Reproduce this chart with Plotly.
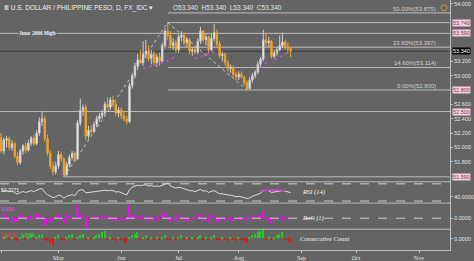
import numpy as np
import pandas as pd
import plotly.graph_objects as go
from plotly.subplots import make_subplots

# ---------------- data ----------------
start_date = "2018-04-02"
axis_end_date = "2018-11-30"
month_labels = ["Apr", "May", "Jun", "Jul", "Aug", "Sep", "Oct", "Nov"]

opens = [52.13, 51.95, 52.10, 52.12, 52.00, 52.05, 51.88, 51.79, 51.95, 52.02,
         51.96, 52.06, 52.13, 52.05, 52.20, 52.36, 52.40, 52.12, 51.92, 51.74,
         51.66, 51.74, 51.90, 51.84, 51.62, 51.76, 51.86, 51.92, 51.84, 52.34,
         52.52, 52.56, 52.16, 52.24, 52.22, 52.32, 52.40, 52.44, 52.48, 52.60,
         52.56, 52.66, 52.60, 52.48, 52.52, 52.44, 52.40, 52.36, 52.86, 53.00,
         53.13, 53.22, 53.18, 53.30, 53.34, 53.24, 53.30, 53.18, 53.26, 53.20,
         53.42, 53.62, 53.56, 53.42, 53.46, 53.36, 53.54, 53.56, 53.46, 53.50,
         53.34, 53.36, 53.33, 53.48, 53.62, 53.50, 53.54, 53.36, 53.52, 53.60,
         53.44, 53.28, 53.30, 53.18, 53.10, 53.12, 53.02, 52.98, 53.02, 52.98,
         52.90, 52.82, 52.94, 53.00, 53.05, 53.16, 53.23, 53.50, 53.46, 53.48,
         53.27, 53.32, 53.36, 53.42, 53.47, 53.41, 53.38]
highs = [52.20, 52.14, 52.16, 52.15, 52.10, 52.08, 51.93, 51.98, 52.05, 52.06,
         52.10, 52.16, 52.17, 52.24, 52.42, 52.50, 52.44, 52.18, 51.96, 51.80,
         51.80, 51.95, 51.94, 51.86, 51.80, 51.90, 51.95, 51.94, 52.38, 52.68,
         52.60, 52.60, 52.30, 52.30, 52.36, 52.44, 52.48, 52.52, 52.64, 52.70,
         52.70, 52.72, 52.64, 52.56, 52.56, 52.50, 52.44, 52.90, 53.04, 53.18,
         53.30, 53.36, 53.48, 53.50, 53.42, 53.36, 53.34, 53.30, 53.32, 53.46,
         53.66, 53.74, 53.62, 53.52, 53.50, 53.58, 53.62, 53.60, 53.54, 53.52,
         53.40, 53.42, 53.52, 53.68, 53.64, 53.58, 53.56, 53.58, 53.72, 53.64,
         53.48, 53.34, 53.32, 53.22, 53.16, 53.14, 53.06, 53.06, 53.06, 53.00,
         52.94, 52.98, 53.04, 53.08, 53.20, 53.26, 53.64, 53.60, 53.54, 53.50,
         53.36, 53.40, 53.56, 53.60, 53.50, 53.46, 53.40]
lows = [51.92, 51.90, 52.00, 51.96, 51.95, 51.85, 51.75, 51.76, 51.90, 51.92,
        51.94, 52.02, 52.02, 52.03, 52.16, 52.30, 52.08, 51.88, 51.70, 51.61,
        51.62, 51.70, 51.80, 51.59, 51.60, 51.72, 51.82, 51.80, 51.82, 52.30,
        52.44, 52.10, 52.12, 52.18, 52.20, 52.28, 52.36, 52.40, 52.45, 52.54,
        52.52, 52.56, 52.44, 52.42, 52.40, 52.36, 52.32, 52.34, 52.82, 52.96,
        53.08, 53.16, 53.14, 53.24, 53.20, 53.16, 53.14, 53.12, 53.14, 53.18,
        53.38, 53.50, 53.38, 53.36, 53.32, 53.32, 53.48, 53.42, 53.40, 53.30,
        53.28, 53.30, 53.30, 53.44, 53.46, 53.42, 53.32, 53.34, 53.48, 53.40,
        53.24, 53.20, 53.14, 53.06, 53.04, 52.98, 52.94, 52.94, 52.96, 52.86,
        52.80, 52.81, 52.90, 52.96, 53.02, 53.12, 53.20, 53.40, 53.40, 53.24,
        53.24, 53.28, 53.34, 53.38, 53.36, 53.32, 53.26]
closes = [51.95, 52.10, 52.12, 52.00, 52.05, 51.88, 51.79, 51.95, 52.02, 51.96,
          52.06, 52.13, 52.05, 52.20, 52.36, 52.40, 52.12, 51.92, 51.74, 51.66,
          51.74, 51.90, 51.84, 51.62, 51.76, 51.86, 51.92, 51.84, 52.34, 52.52,
          52.56, 52.16, 52.24, 52.22, 52.32, 52.40, 52.44, 52.48, 52.60, 52.56,
          52.66, 52.60, 52.48, 52.52, 52.44, 52.40, 52.36, 52.86, 53.00, 53.13,
          53.22, 53.18, 53.30, 53.34, 53.24, 53.30, 53.18, 53.26, 53.20, 53.42,
          53.62, 53.56, 53.42, 53.46, 53.36, 53.54, 53.56, 53.46, 53.50, 53.34,
          53.36, 53.33, 53.48, 53.62, 53.50, 53.54, 53.36, 53.52, 53.60, 53.44,
          53.28, 53.30, 53.18, 53.10, 53.12, 53.02, 52.98, 53.02, 52.98, 52.90,
          52.82, 52.94, 53.00, 53.05, 53.16, 53.23, 53.50, 53.46, 53.48, 53.27,
          53.32, 53.36, 53.42, 53.47, 53.41, 53.38, 53.34]

rsi_values = [53, 54, 54, 52, 53, 49, 46, 50, 52, 50,
              52, 54, 52, 55, 58, 59, 50, 45, 41, 38,
              40, 44, 42, 37, 41, 43, 45, 42, 52, 56,
              56, 49, 50, 50, 52, 53, 54, 54, 55, 54,
              55, 54, 51, 52, 49, 47, 44, 56, 62, 65,
              67, 66, 67, 68, 65, 66, 64, 65, 64, 67,
              70, 72, 65, 63, 60, 62, 61, 58, 57, 54,
              54, 52, 55, 57, 53, 54, 50, 53, 54, 50,
              47, 47, 45, 44, 44, 42, 40, 41, 40, 38,
              36, 37, 41, 43, 46, 48, 55, 54, 54, 50,
              51, 52, 54, 54, 53, 51, 49.5]
rsi_signal_start = 95
rsi_signal = [53, 54, 55, 55, 55, 55, 55, 55, 54.5, 54]

# purple stop-and-reverse dots: {start index: values}
sar_segments = {
    52: [53.10, 53.11, 53.12, 53.13, 53.14, 53.15, 53.16, 53.18, 53.20, 53.22, 53.24, 53.25, 53.26],
    71: [53.24, 53.26, 53.27, 53.28, 53.30, 53.31, 53.32, 53.34],
    95: [53.10, 53.14, 53.18, 53.22],
    100: [53.22, 53.24, 53.26, 53.28, 53.30, 53.32],
}

june_2006_high = 53.59
support_level = 52.50
fib_levels = [("50.00%(53.875)", 53.875), ("23.60%(53.397)", 53.397),
              ("14.60%(53.114)", 53.114), ("0.00%(52.800)", 52.800)]
last_price = 53.34
rsi_bands = [70, 30]

# ---------------- derived ----------------
n = len(closes)
idx = list(range(n))
all_days = pd.bdate_range(start_date, axis_end_date)
month_starts = [i for i in range(len(all_days)) if i == 0 or all_days[i].month != all_days[i - 1].month]

roc = [0.0] + [(closes[i] / closes[i - 1] - 1) * 100 for i in range(1, n)]
count = [0]
for i in range(1, n):
    ch = closes[i] - closes[i - 1]
    prev = count[-1]
    if ch > 0:
        count.append(prev + 1 if prev > 0 else 1)
    elif ch < 0:
        count.append(prev - 1 if prev < 0 else -1)
    else:
        count.append(0)

peak_i = int(np.argmax(highs))
low_i = int(np.argmin(lows))
aug_low_i = peak_i + int(np.argmin(lows[peak_i:]))
peak_val = highs[peak_i]
low_val = lows[low_i]
aug_low_val = lows[aug_low_i]

boxed = [peak_val, june_2006_high, aug_low_val, support_level, low_val, last_price]
price_ticks = [round(v, 1) for v in np.arange(51.6, 54.01, 0.2)
               if min(abs(v - b) for b in boxed) > 0.09]

# ---------------- figure ----------------
BG = "#646464"
LINE = "#bdbdbd"
W, H = 474, 261
PLOT_H = 253
XR = [-0.4, 164.4]
XD = 453 / W

def py(px):
    return (PLOT_H - px) / PLOT_H

fig = make_subplots(rows=4, cols=1, shared_xaxes=True, vertical_spacing=0)

fig.add_trace(go.Candlestick(
    x=idx, open=opens, high=highs, low=lows, close=closes,
    increasing=dict(fillcolor="#ffffff", line=dict(color="#cfcfcf", width=1)),
    decreasing=dict(fillcolor="#f2a22a", line=dict(color="#f2a22a", width=1)),
    whiskerwidth=0, showlegend=False, hoverinfo="skip"), row=1, col=1)

for s, vals in sar_segments.items():
    fig.add_trace(go.Scatter(x=list(range(s, s + len(vals))), y=vals, mode="lines",
                             line=dict(color="#b455d6", width=1.5, dash="dot"),
                             showlegend=False, hoverinfo="skip"), row=1, col=1)

# diagonal swing lines
fig.add_trace(go.Scatter(x=[low_i, peak_i, aug_low_i], y=[low_val, peak_val, aug_low_val],
                         mode="lines", line=dict(color="#c8c8c8", width=1, dash="dot"),
                         showlegend=False, hoverinfo="skip"), row=1, col=1)

# RSI
fig.add_trace(go.Scatter(x=idx, y=rsi_values, mode="lines", line=dict(color="#dcdcdc", width=1),
                         showlegend=False, hoverinfo="skip"), row=2, col=1)
fig.add_trace(go.Scatter(x=list(range(rsi_signal_start, rsi_signal_start + len(rsi_signal))),
                         y=rsi_signal, mode="lines", line=dict(color="#e040e0", width=1.5),
                         showlegend=False, hoverinfo="skip"), row=2, col=1)

# RoC
fig.add_trace(go.Bar(x=idx, y=roc, marker=dict(color="#ff00ff", line=dict(width=0)), width=0.45,
                     showlegend=False, hoverinfo="skip"), row=3, col=1)

# Consecutive count
fig.add_trace(go.Bar(x=idx, y=count,
                     marker=dict(color=["#22cc22" if v > 0 else "#e01818" for v in count], line=dict(width=0)),
                     width=0.55, showlegend=False, hoverinfo="skip"), row=4, col=1)

# level lines
def hline(y, x0, color=LINE, width=1, dash=None):
    fig.add_shape(type="line", xref="x", yref="y", x0=x0, x1=XR[1], y0=y, y1=y,
                  line=dict(color=color, width=width, dash=dash), layer="below")

hline(june_2006_high, XR[0])
hline(support_level, XR[0])
hline(peak_val, peak_i)
hline(low_val, low_i)
for _, v in fib_levels:
    hline(v, peak_i)
hline(last_price, XR[0], color="#3c3c3c")

# panel separators
for px in [184, 205.5, 232]:
    fig.add_shape(type="line", xref="paper", yref="paper", x0=0, x1=XD, y0=py(px), y1=py(px),
                  line=dict(color=LINE, width=1))
for v in rsi_bands:
    fig.add_shape(type="line", xref="x", yref="y2", x0=XR[0], x1=XR[1], y0=v, y1=v,
                  line=dict(color="#cfcfcf", width=1, dash="dash"))
fig.add_shape(type="line", xref="x", yref="y3", x0=XR[0], x1=XR[1], y0=0, y1=0,
              line=dict(color="#cfcfcf", width=1, dash="dash"))

# orange icon
fig.add_shape(type="circle", xref="paper", yref="paper", x0=444 / W, x1=450 / W, y0=py(11), y1=py(5),
              line=dict(color="#e0903a", width=1))

ann = []
def text(x, y, t, size=6, color="#f0f0f0", xanchor="left", yanchor="middle", xref="paper", yref="paper",
         family="Liberation Sans", bgcolor=None):
    d = dict(x=x, y=y, text=t, xref=xref, yref=yref, xanchor=xanchor, yanchor=yanchor, showarrow=False,
             font=dict(size=size, color=color, family=family), borderpad=0)
    if bgcolor:
        d["bgcolor"] = bgcolor
    ann.append(d)

text(3 / W, py(8), "Ⅲ U.S. DOLLAR / PHILIPPINE PESO, D, FX_IDC ▾", size=6.5)
text(173 / W, py(8), "O53.340  H53.340  L53.340  C53.340", size=6.5, color="#e6e6e6")
text(38 / W, june_2006_high, "<b>June 2006 High</b>", size=5.5, xanchor="center", yref="y",
     family="Liberation Serif", bgcolor=BG)
for label, v in fib_levels:
    text(440 / W, v, label, size=6, color="#d2d2d2", xanchor="right", yanchor="bottom", yref="y")

# price axis boxes
for v in [peak_val, june_2006_high, aug_low_val, support_level, low_val]:
    text(XD + 2 / W, v, "%.3f" % v, size=5.5, color="#8a3658", yref="y", bgcolor="#f3cfe0")
text(XD + 2 / W, last_price, "%.3f" % last_price, size=5.5, color="#ffffff", yref="y", bgcolor="#000000")

# indicator labels
text(303 / W, 50, "<i>RSI (14)</i>", size=6.5, color="#f4f4f4", yref="y2", family="Liberation Serif")
text(303 / W, 0, "<i>RoC (1)</i>", size=6.5, color="#f4f4f4", yref="y3", family="Liberation Serif")
text(301 / W, 0, "<i>Consecutive Count</i>", size=6.5, color="#f4f4f4", yref="y4", family="Liberation Serif")
text(0.5 / W, 56, "52.3771", size=5, color="#f0f0f0", yref="y2")
text(0.5 / W, 0.62, "0.0000", size=4.5, color="#ff40ff", yref="y3")
text(0.5 / W, 2.3, "1.0000", size=4.5, color="#ff3030", yref="y4")
text(20 / W, 2.3, "1.0000", size=4.5, color="#30e030", yref="y4")

fig.update_layout(
    width=W, height=H, margin=dict(l=0, r=0, t=0, b=H - PLOT_H),
    paper_bgcolor=BG, plot_bgcolor=BG, showlegend=False, bargap=0,
    annotations=ann, font=dict(family="Liberation Sans", size=6, color="#e6e6e6"),
)
fig.update_xaxes(domain=[0, XD], range=XR, showgrid=False, zeroline=False, rangeslider_visible=False,
                 showticklabels=False, ticks="")
fig.update_xaxes(row=4, col=1, showticklabels=True, tickvals=month_starts, ticktext=month_labels,
                 ticks="outside", ticklen=2, tickcolor=LINE, showline=True, linecolor=LINE,
                 tickfont=dict(size=6, color="#e6e6e6", family="Liberation Serif"))

yax_common = dict(side="right", showgrid=False, zeroline=False, showline=True, linecolor=LINE,
                  ticks="outside", ticklen=2, tickcolor=LINE, tickfont=dict(size=5.5, color="#e6e6e6"))
fig.update_layout(
    yaxis=dict(domain=[py(184), 1], range=[51.52, 54.055], tickvals=price_ticks, tickformat=".3f", **yax_common),
    yaxis2=dict(domain=[py(205.5), py(184)], range=[25.3, 74.7], tickvals=[40], tickformat=".4f", **yax_common),
    yaxis3=dict(domain=[py(232), py(205.5)], range=[-0.8, 1.1], tickvals=[0], tickformat=".4f", **yax_common),
    yaxis4=dict(domain=[0, py(232)], range=[-7.3, 6], tickvals=[0], tickformat=".4f", **yax_common),
)

fig.write_html("out.html")
